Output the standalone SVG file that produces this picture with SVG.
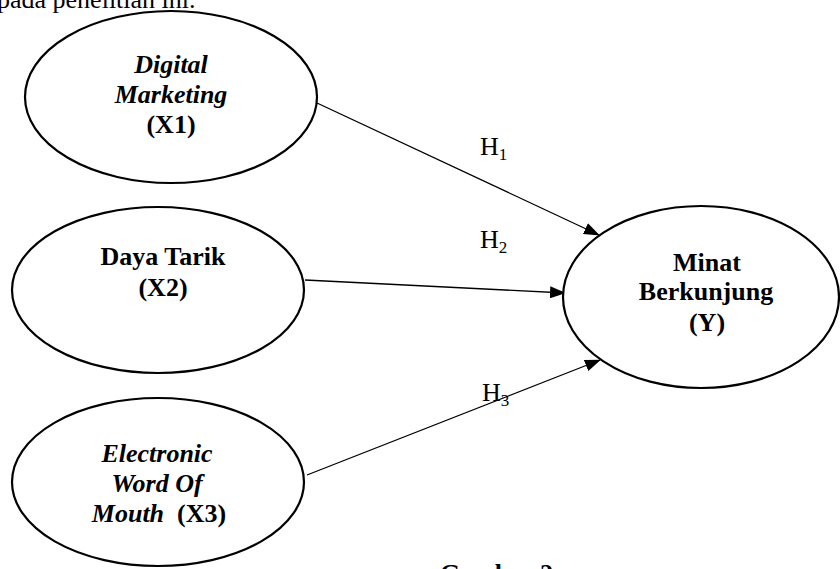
<svg xmlns="http://www.w3.org/2000/svg" width="840" height="569" viewBox="0 0 840 569">
<defs>
<marker id="ah" markerWidth="16" markerHeight="12" refX="15" refY="6" orient="auto" markerUnits="userSpaceOnUse">
<path d="M0,0 L16,6 L0,12 Z" fill="#000"/>
</marker>
<style>
.node ellipse{fill:#fff;stroke:#000;stroke-width:2.2}
text{font-family:"Liberation Serif","Times New Roman",serif;font-size:26px;fill:#000}
.b{font-weight:bold}
.bi{font-weight:bold;font-style:italic}
.c{text-anchor:middle}
.edge{stroke:#000;stroke-width:1.3;fill:none;marker-end:url(#ah)}
.sub{font-size:17px}
</style>
</defs>
<rect width="840" height="569" fill="#fff"/>
<text x="-3" y="8">pada penelitian ini.</text>
<g id="connectors">
<line class="edge" x1="317" y1="103" x2="599" y2="235"/>
<line class="edge" x1="305" y1="280" x2="565" y2="293"/>
<line class="edge" x1="307" y1="475" x2="600" y2="360"/>
</g>
<g id="labels">
<text x="480" y="155">H<tspan class="sub" dy="5">1</tspan></text>
<text x="480" y="248">H<tspan class="sub" dy="5">2</tspan></text>
<text x="482" y="401">H<tspan class="sub" dy="5">3</tspan></text>
</g>
<g id="x1" class="node">
<ellipse cx="171" cy="97" rx="146" ry="86"/>
<text class="c bi" x="171" y="73">Digital</text>
<text class="c bi" x="171" y="103">Marketing</text>
<text class="c b" x="171" y="133">(X1)</text>
</g>
<g id="x2" class="node">
<ellipse cx="158" cy="290" rx="146" ry="83"/>
<text class="c b" x="163" y="265">Daya Tarik</text>
<text class="c b" x="163" y="296">(X2)</text>
</g>
<g id="x3" class="node">
<ellipse cx="158" cy="482" rx="146" ry="84"/>
<text class="c bi" x="157" y="462">Electronic</text>
<text class="c bi" x="157" y="492">Word Of</text>
<text class="c" x="159" y="522"><tspan class="bi">Mouth</tspan><tspan class="b" xml:space="preserve">  (X3)</tspan></text>
</g>
<g id="y" class="node">
<ellipse cx="701" cy="297" rx="138" ry="91"/>
<text class="c b" x="707" y="271">Minat</text>
<text class="c b" x="706" y="300">Berkunjung</text>
<text class="c b" x="707" y="331">(Y)</text>
</g>
<text class="b" x="440" y="582">Gambar 2</text>
</svg>
